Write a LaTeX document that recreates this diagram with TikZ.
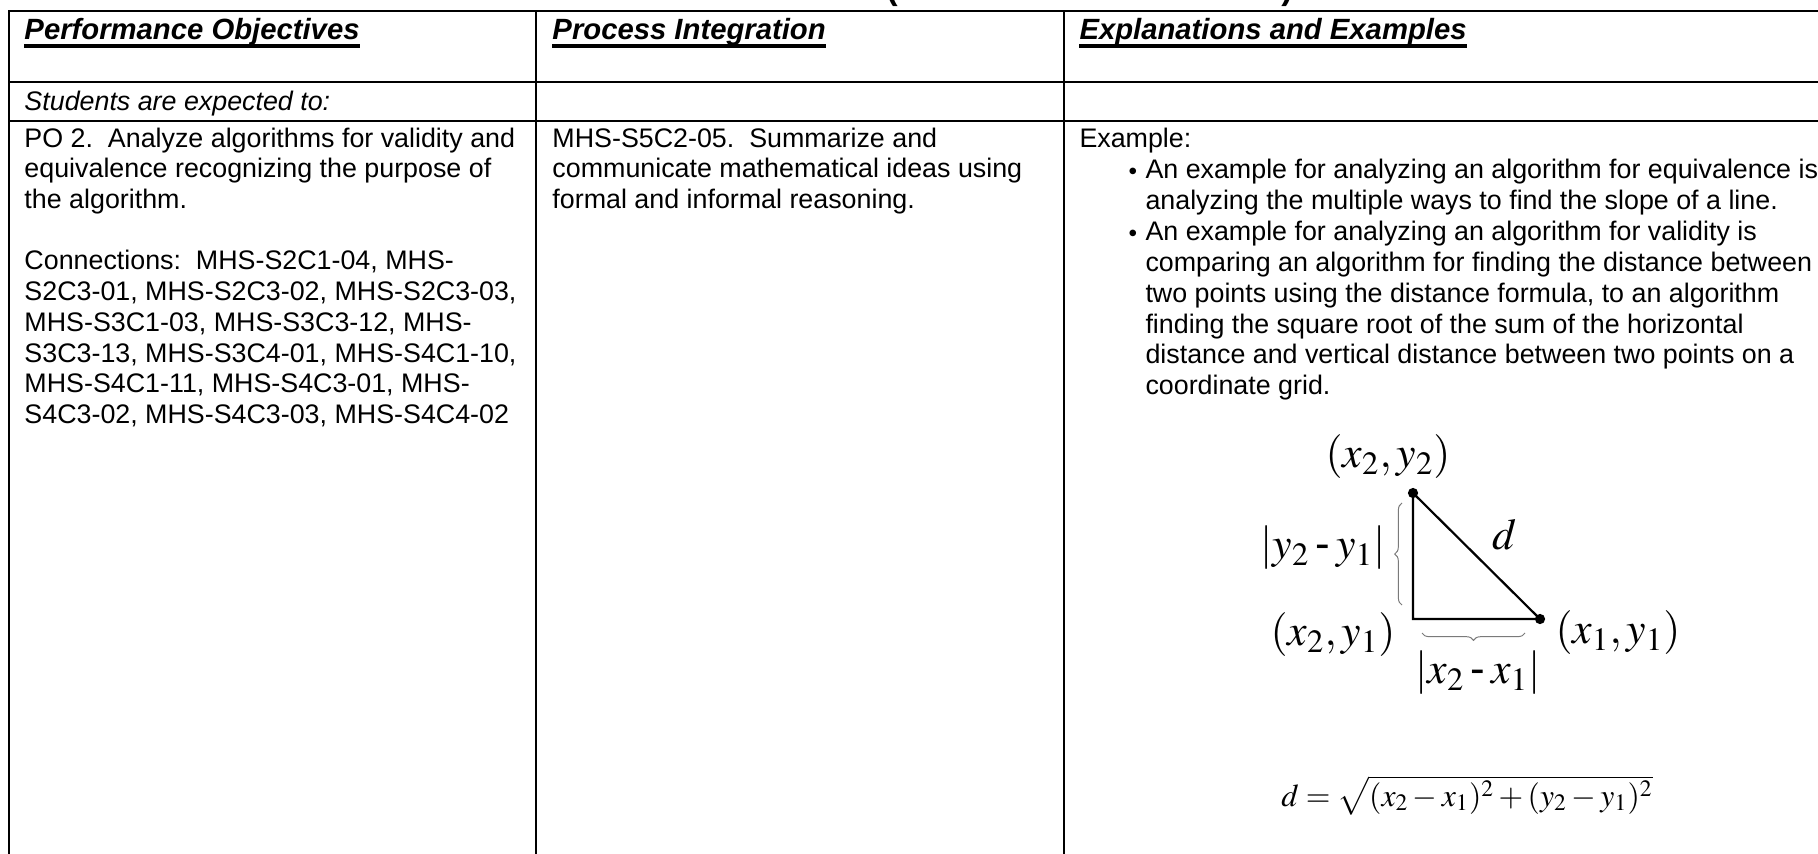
\documentclass[tikz,border=0pt]{standalone}
\usepackage{mathptmx}
\usepackage[no-math]{fontspec}
\setmainfont{Liberation Sans}
\usetikzlibrary{decorations.pathreplacing,positioning}
\definecolor{ink}{HTML}{000000}
\definecolor{brc}{HTML}{7A7A7A}
\newcommand{\hyp}{\mathbin{\mbox{-}}}

\begin{document}
\begin{tikzpicture}[x=0.41pt, y=-0.41pt, every node/.style={inner sep=0pt, text=ink},
      cell/.style={anchor=base west, align=left, font=\fontsize{11}{12.6}\selectfont},
      head/.style={anchor=base west, font=\fontsize{12}{14}\selectfont\bfseries\itshape},
      uln/.style={draw=ink, line width=1.4pt},
      bul/.style={anchor=base west, font=\fontsize{10}{11}\selectfont},
      lab/.style={font=\fontsize{18}{20}\selectfont},
      tabrule/.style={draw=ink, line width=0.8pt},
      side/.style={draw=ink, line width=0.9pt},
      vx/.style={circle, fill=ink, minimum size=4.2pt},
      brace/.style={draw=brc, line width=0.4pt, decorate, decoration={brace, amplitude=3pt}}]
    \clip (0,0) rectangle (1818,853);
    % title, cut off by the page edge
    \node[anchor=base, font=\fontsize{14}{16}\selectfont\bfseries] (tl) at (892,-1) {(};
    \node[anchor=base, font=\fontsize{14}{16}\selectfont\bfseries] (tr) at (1287,-1) {)};
    % table rules
    \draw[tabrule] (9,11) -- (1830,11) (9,82) -- (1830,82) (9,121) -- (1830,121);
    \draw[tabrule] (9,10) -- (9,870) (536,11) -- (536,870) (1064,11) -- (1064,870);
    % header row
    \node[head] (hpo) at (24,39) {Performance Objectives};
    \node[head] (hpi) at (552,39) {Process Integration};
    \node[head] (hee) at (1079,39) {Explanations and Examples};
    \foreach \h in {hpo,hpi,hee}
      \draw[uln] ([yshift=-2.9pt]\h.base west) -- ([yshift=-2.9pt]\h.base east);
    \node[cell, font=\fontsize{11}{12.6}\selectfont\itshape] (stu) at (24,110) {Students are expected to:};
    % body row (base = last line)
    \node[cell] (po) at (24,423.6) {PO 2.\ \ Analyze algorithms for validity and\\equivalence recognizing the purpose of\\the algorithm.\\[12.6pt]Connections:\ \ MHS-S2C1-04, MHS-\\S2C3-01, MHS-S2C3-02, MHS-S2C3-03,\\MHS-S3C1-03, MHS-S3C3-12, MHS-\\S3C3-13, MHS-S3C4-01, MHS-S4C1-10,\\MHS-S4C1-11, MHS-S4C3-01, MHS-\\S4C3-02, MHS-S4C3-03, MHS-S4C4-02};
    \node[cell] (pi) at (552,208.5) {MHS-S5C2-05.\ \ Summarize and\\communicate mathematical ideas using\\formal and informal reasoning.};
    \node[cell] (ex) at (1079,147) {Example:};
    \node[bul] (bu1) at (1128,179) {\textbullet};
    \node[cell] (b1) at (1145,209.5) {An example for analyzing an algorithm for equivalence is\\analyzing the multiple ways to find the slope of a line.};
    \node[bul] (bu2) at (1128,241) {\textbullet};
    \node[cell] (b2) at (1145,394.5) {An example for analyzing an algorithm for validity is\\comparing an algorithm for finding the distance between\\two points using the distance formula, to an algorithm\\finding the square root of the sum of the horizontal\\distance and vertical distance between two points on a\\coordinate grid.};
    % right triangle
    \node[vx] (p2) at (1413,493) {};
    \coordinate (pc) at (1413,619);
    \node[vx] (p1) at (1540,619) {};
    \draw[side] (p2.center) -- (pc) -- (p1.center) -- cycle;
    \coordinate (vb) at (1402,605); \coordinate (vt) at (1402,503);
    \coordinate (hr) at (1525,633); \coordinate (hl) at (1422,633);
    \draw[brace] (vb) -- (vt);
    \draw[brace] (hr) -- (hl);
    \node[lab] (lp2) at (1388,457) {$(x_2, y_2)$};
    \node[lab] (ld) at (1505,535) {$d$};
    \node[lab] (ldy) at (1323,548) {$|y_2\hyp y_1|$};
    \node[lab] (lpc) at (1333,635) {$(x_2, y_1)$};
    \node[lab] (ldx) at (1478,673) {$|x_2\hyp x_1|$};
    \node[lab] (lp1) at (1618,633) {$(x_1, y_1)$};
    \node[anchor=base, font=\fontsize{13}{16}\selectfont] (frm) at (1467,806) {$d=\sqrt{(x_2-x_1)^2+(y_2-y_1)^2}$};
  \end{tikzpicture}
\end{document}
